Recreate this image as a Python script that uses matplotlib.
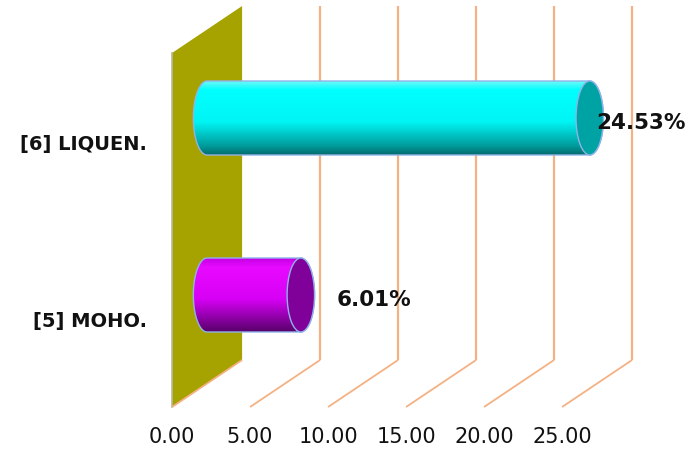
import numpy as np
import matplotlib
matplotlib.use("Agg")
import matplotlib.pyplot as plt
from matplotlib.patches import Polygon, Ellipse, PathPatch
from matplotlib.path import Path
from matplotlib.colors import LinearSegmentedColormap

# ---- data ----
categories = ["[5] MOHO.", "[6] LIQUEN."]
values = [6.01, 24.53]
value_labels = ["6.01%", "24.53%"]
tick_values = [0, 5, 10, 15, 20, 25]
tick_labels = ["0.00", "5.00", "10.00", "15.00", "20.00", "25.00"]

# ---- styling ----
body_colors = [
    ["#c400e4", "#e80aff", "#d800f6", "#7a0090", "#560068"],   # magenta cylinder
    ["#6ff7f7", "#00ffff", "#00f5f5", "#009a9a", "#056b6b"],   # cyan cylinder
]
cap_colors = ["#80009a", "#00a3a3"]
edge_color = "#8fb3e8"
wall_color = "#a6a200"
grid_color = "#f4b183"

# oblique projection: depth shift in (value units, category units)
DX, DY = 4.49, 0.2655
half_h = 0.209      # cylinder radius in category units
cap_rx = 0.88       # ellipse half-width of the cylinder ends in value units
y_floor, y_top = -0.5, 1.5

fig = plt.figure(figsize=(6.87, 4.51), dpi=100)
ax = fig.add_axes([0, 0, 1, 1])
ax.axis("off")

# side wall at value 0
wall = Polygon([(0, y_floor), (0, y_top), (DX, y_top + DY), (DX, y_floor + DY)],
               closed=True, facecolor=wall_color, edgecolor="none", zorder=1)
ax.add_patch(wall)
ax.plot([0, 0], [y_floor, y_top], color="#b8b8a0", lw=1.2, zorder=1.5)

# floor diagonals and back-wall gridlines
for v in tick_values:
    ax.plot([v, v + DX], [y_floor, y_floor + DY], color=grid_color, lw=1.3,
            zorder=2, solid_capstyle="butt")
    if v > 0:
        ax.plot([v + DX, v + DX], [y_floor + DY, y_top + DY], color=grid_color,
                lw=1.6, zorder=2, solid_capstyle="butt")

# axis tick labels along the front edge
for v, lab in zip(tick_values, tick_labels):
    ax.text(v, -0.672, lab, ha="center", va="center", fontsize=15,
            family="DejaVu Sans", color="#111111")

# category labels
for i, cat in enumerate(categories):
    ax.text(-1.6, i - 0.015, cat, ha="right", va="center", fontsize=14,
            fontweight="bold", family="DejaVu Sans", color="#111111")


def ellipse_arc(cx, cy, rx, ry, t0, t1, n=60):
    t = np.linspace(t0, t1, n)
    return np.column_stack([cx + rx * np.cos(t), cy + ry * np.sin(t)])


# cylinders
for i, v in enumerate(values):
    cy = i + DY / 2
    x0 = DX / 2
    x1 = v + DX / 2
    left = ellipse_arc(x0, cy, cap_rx, half_h, np.pi / 2, 3 * np.pi / 2)
    right = ellipse_arc(x1, cy, cap_rx, half_h, -np.pi / 2, np.pi / 2)
    outline = np.vstack([left, right, left[:1]])
    path = Path(outline)
    clip = PathPatch(path, facecolor="none", edgecolor="none")
    ax.add_patch(clip)

    cmap = LinearSegmentedColormap.from_list(
        "body%d" % i,
        list(zip([0.0, 0.12, 0.55, 0.88, 1.0], body_colors[i])))
    grad = np.linspace(0, 1, 256).reshape(-1, 1)
    im = ax.imshow(grad, cmap=cmap, aspect="auto", origin="upper",
                   extent=[x0 - cap_rx, x1 + cap_rx, cy - half_h, cy + half_h],
                   zorder=3, interpolation="bilinear")
    im.set_clip_path(clip)

    ax.add_patch(PathPatch(path, facecolor="none", edgecolor=edge_color,
                           lw=1.0, zorder=4))
    ax.add_patch(Ellipse((x1, cy), 2 * cap_rx, 2 * half_h, facecolor=cap_colors[i],
                         edgecolor=edge_color, lw=1.0, zorder=5))

# value labels beside the cylinder ends
label_offsets = [6.9, 5.5]
for i, (v, lab) in enumerate(zip(values, value_labels)):
    ax.text(v + label_offsets[i], i + DY / 2 - 0.03, lab, ha="center", va="center",
            fontsize=15.5, fontweight="bold", family="DejaVu Sans",
            color="#111111", zorder=6)

ax.set_xlim(-11.03, 33.01)
ax.set_ylim(-0.7486, 1.7994)
fig.savefig("out.png", dpi=100, facecolor="white")
